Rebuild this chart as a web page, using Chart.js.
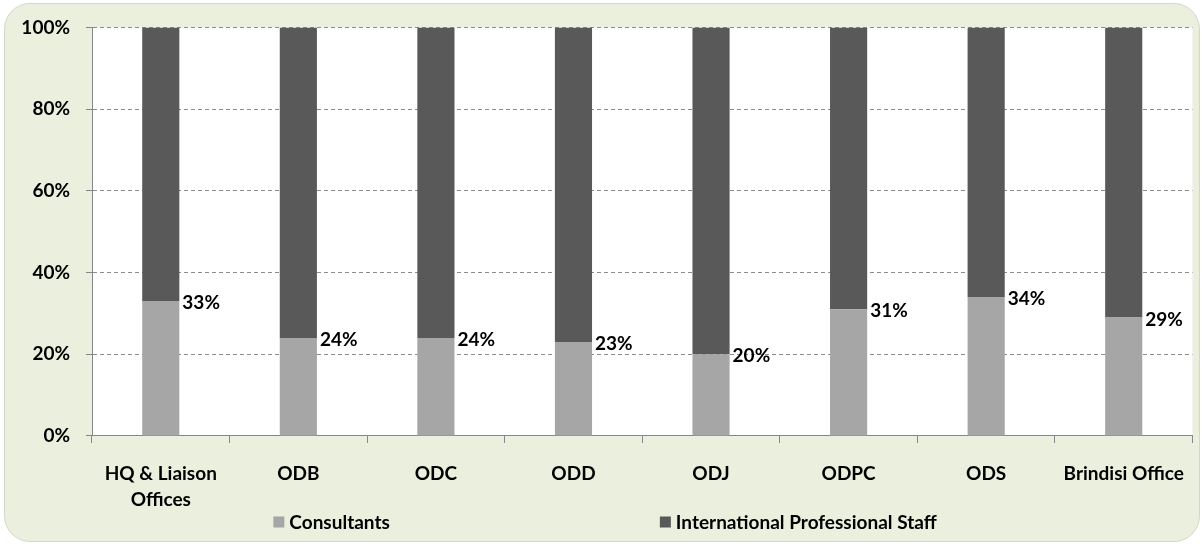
<!DOCTYPE html>
<html>
<head>
<meta charset="utf-8">
<script src="https://cdn.jsdelivr.net/npm/chart.js@4.4.0/dist/chart.umd.min.js"></script>
<style>
  html, body { margin: 0; padding: 0; background: #fff; }
  #frame {
    position: absolute; left: 4px; top: 3px; width: 1194px; height: 537px;
    background: #ebefde; border: 1px solid #d4d8c6; border-radius: 26px;
  }
  #wrap { position: absolute; left: 0; top: 0; width: 1202px; height: 546px; }
</style>
</head>
<body>
<div id="frame"></div>
<div id="wrap"><canvas id="barChart" width="1202" height="546"></canvas></div>
<script>
const categories = [['HQ & Liaison', 'Offices'], 'ODB', 'ODC', 'ODD', 'ODJ', 'ODPC', 'ODS', 'Brindisi Office'];
const consultants = [33, 24, 24, 23, 20, 31, 34, 29];
const intlStaff = [67, 76, 76, 77, 80, 69, 66, 71];
const yTicks = [0, 20, 40, 60, 80, 100];

const FONT = 'Lato';
const SIZE = 19;
Chart.defaults.font.family = FONT;
Chart.defaults.color = '#000';

// white plot area
const plotBg = {
    id: 'plotBg',
    beforeDraw(c) {
        const a = c.chartArea;
        c.ctx.save();
        c.ctx.fillStyle = '#fff';
        c.ctx.fillRect(a.left, a.top, a.right - a.left, a.bottom - a.top);
        c.ctx.restore();
    }
};

// value labels to the right of the light segment
const valueLabels = {
    id: 'valueLabels',
    afterDatasetsDraw(c) {
        const ctx = c.ctx;
        const meta = c.getDatasetMeta(0);
        ctx.save();
        ctx.font = 'bold ' + SIZE + 'px ' + FONT;
        ctx.fillStyle = '#000';
        ctx.textAlign = 'left';
        ctx.textBaseline = 'middle';
        meta.data.forEach((bar, i) => {
            ctx.fillText(consultants[i] + '%', bar.x + bar.width / 2 + 3, bar.y + 2);
        });
        ctx.restore();
    }
};

// legend spread out like the original
const wideLegend = {
    id: 'wideLegend',
    afterDraw(c) {
        const ctx = c.ctx;
        const ds = c.data.datasets;
        const gap = 270, box = 11;
        ctx.save();
        ctx.font = 'bold ' + SIZE + 'px ' + FONT;
        ctx.textBaseline = 'middle';
        const widths = ds.map(d => box + 5 + ctx.measureText(d.label).width);
        const total = widths.reduce((a, b) => a + b, 0) + gap * (ds.length - 1);
        let x = (c.width - total) / 2 + 4;
        const y = 522;
        ds.forEach((d, i) => {
            ctx.fillStyle = d.backgroundColor;
            ctx.fillRect(x, y - box / 2, box, box);
            ctx.fillStyle = '#000';
            ctx.fillText(d.label, x + box + 5, y + 1);
            x += widths[i] + gap;
        });
        ctx.restore();
    }
};

let bar = document.getElementById('barChart').getContext('2d');
let chart = new Chart(bar, {
    type: 'bar',
    data: {
        labels: categories,
        datasets: [{
            label: 'Consultants',
            backgroundColor: '#a6a6a6',
            data: consultants,
        }, {
            label: 'International Professional Staff',
            backgroundColor: '#595959',
            data: intlStaff,
        }]
    },
    plugins: [plotBg, valueLabels, wideLegend],
    options: {
        responsive: false,
        animation: false,
        layout: { padding: { left: 0, right: 2, top: 18, bottom: 15 } },
        datasets: { bar: { categoryPercentage: 1, barPercentage: 0.27 } },
        plugins: {
            tooltip: { enabled: false },
            legend: { display: false }
        },
        scales: {
            x: {
                stacked: true,
                grid: { offset: true, drawOnChartArea: false, tickLength: 7, color: '#868686' },
                border: { color: '#868686', width: 1 },
                ticks: {
                    font: { size: SIZE, weight: 'bold', lineHeight: 1.37 },
                    padding: 18, maxRotation: 0, autoSkip: false
                }
            },
            y: {
                stacked: true,
                min: 0,
                max: 100,
                afterBuildTicks(s) { s.ticks = yTicks.map(v => ({ value: v })); },
                afterFit(s) { s.width = 92; },
                grid: {
                    color: c => c.tick && c.tick.value === 0 ? 'rgba(0,0,0,0)' : '#8c8c8c',
                    tickColor: '#868686',
                    tickLength: 6
                },
                border: { color: '#868686', dash: [4, 3] },
                ticks: { font: { size: SIZE, weight: 'bold' }, padding: 16, callback: v => v + '%' }
            }
        }
    }
});
</script>
</body>
</html>
